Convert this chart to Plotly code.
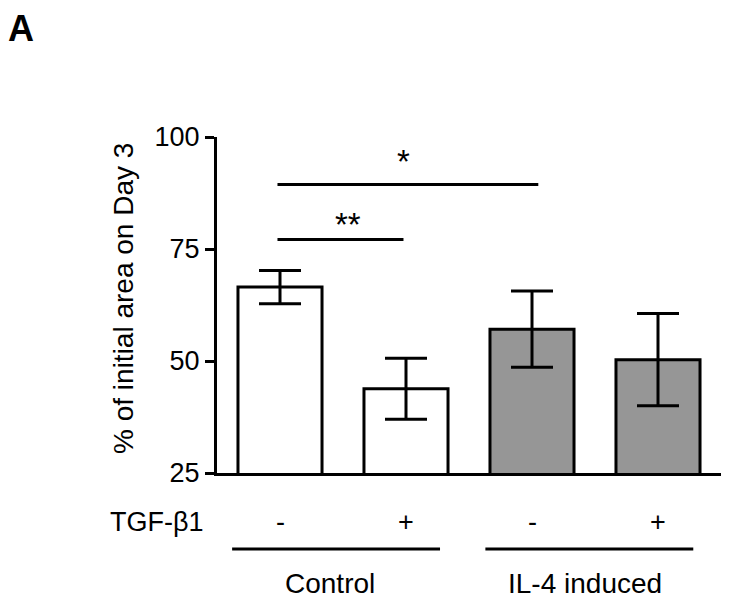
import plotly.graph_objects as go

# ---- data ----
categories = [0, 1, 2, 3]
means = [66.5, 43.8, 57.1, 50.3]
errors = [3.7, 6.8, 8.5, 10.3]
bar_colors = ["white", "white", "#969696", "#969696"]
treatment_labels = ["-", "+", "-", "+"]
group_names = ["Control", "IL-4 induced"]
group_spans = [(-0.38, 1.27), (1.63, 3.28)]
group_label_x = [0.40, 2.42]
sig_texts = ["**", "*"]
sig_spans = [(-0.02, 0.98), (-0.02, 2.05)]
sig_line_y = [77.1, 89.4]
sig_text_x = [0.54, 0.98]
sig_text_y = [80.5, 94.6]
y_ticks = [25, 50, 75, 100]
y_title = "% of initial area on Day 3"
row_label = "TGF-β1"
panel_label = "A"

FONT = "Arial, Liberation Sans, Helvetica, sans-serif"

fig = go.Figure()
fig.add_trace(go.Bar(
    x=categories, y=means,
    width=0.667,
    marker=dict(color=bar_colors, line=dict(color="black", width=3)),
    error_y=dict(type="data", array=errors, visible=True,
                 color="black", thickness=3, width=21),
    showlegend=False,
))

shapes = []
annotations = []

# significance brackets
for (x0, x1), yl, txt, tx, ty in zip(sig_spans, sig_line_y, sig_texts, sig_text_x, sig_text_y):
    shapes.append(dict(type="line", xref="x", yref="y", x0=x0, x1=x1, y0=yl, y1=yl,
                       line=dict(color="black", width=3)))
    annotations.append(dict(xref="x", yref="y", x=tx, y=ty, text=txt, showarrow=False,
                            font=dict(family=FONT, size=33, color="black"),
                            xanchor="center", yanchor="middle"))

# treatment row
annotations.append(dict(xref="paper", yref="paper", x=-0.120, y=-0.145, text=row_label,
                        showarrow=False, font=dict(family=FONT, size=27, color="black"),
                        xanchor="center", yanchor="middle"))
for c, t in zip(categories, treatment_labels):
    annotations.append(dict(xref="x", yref="paper", x=c, y=-0.145, text=t, showarrow=False,
                            font=dict(family=FONT, size=27, color="black"),
                            xanchor="center", yanchor="middle"))

# group lines and labels
for (x0, x1), name, gx in zip(group_spans, group_names, group_label_x):
    shapes.append(dict(type="line", xref="x", yref="paper", x0=x0, x1=x1, y0=-0.226, y1=-0.226,
                       line=dict(color="black", width=3)))
    annotations.append(dict(xref="x", yref="paper", x=gx, y=-0.328, text=name, showarrow=False,
                            font=dict(family=FONT, size=28, color="black"),
                            xanchor="center", yanchor="middle"))

# y title
annotations.append(dict(xref="paper", yref="paper", x=-0.1845, y=0.518, text=y_title,
                        textangle=-90, showarrow=False,
                        font=dict(family=FONT, size=28, color="black"),
                        xanchor="center", yanchor="middle"))

# panel label
annotations.append(dict(xref="paper", yref="paper", x=-0.4147, y=1.384, text="<b>" + panel_label + "</b>",
                        showarrow=False, font=dict(family=FONT, size=36, color="black"),
                        xanchor="left", yanchor="top", borderpad=0, borderwidth=0))

fig.update_layout(
    width=723, height=597,
    margin=dict(l=209, r=10, t=129, b=132),
    paper_bgcolor="white", plot_bgcolor="white",
    shapes=shapes, annotations=annotations,
    xaxis=dict(range=[-0.5, 3.5], showline=True, linecolor="black", linewidth=3,
               showticklabels=False, ticks="", showgrid=False, zeroline=False, fixedrange=True),
    yaxis=dict(range=[25, 100], tickvals=y_ticks, showline=True, linecolor="black", linewidth=3,
               ticks="outside", ticklen=9, tickwidth=3, tickcolor="black",
               tickfont=dict(family=FONT, size=27, color="black"),
               showgrid=False, zeroline=False, fixedrange=True),
    font=dict(family=FONT, size=27, color="black"),
)

fig.write_html("out.html")
